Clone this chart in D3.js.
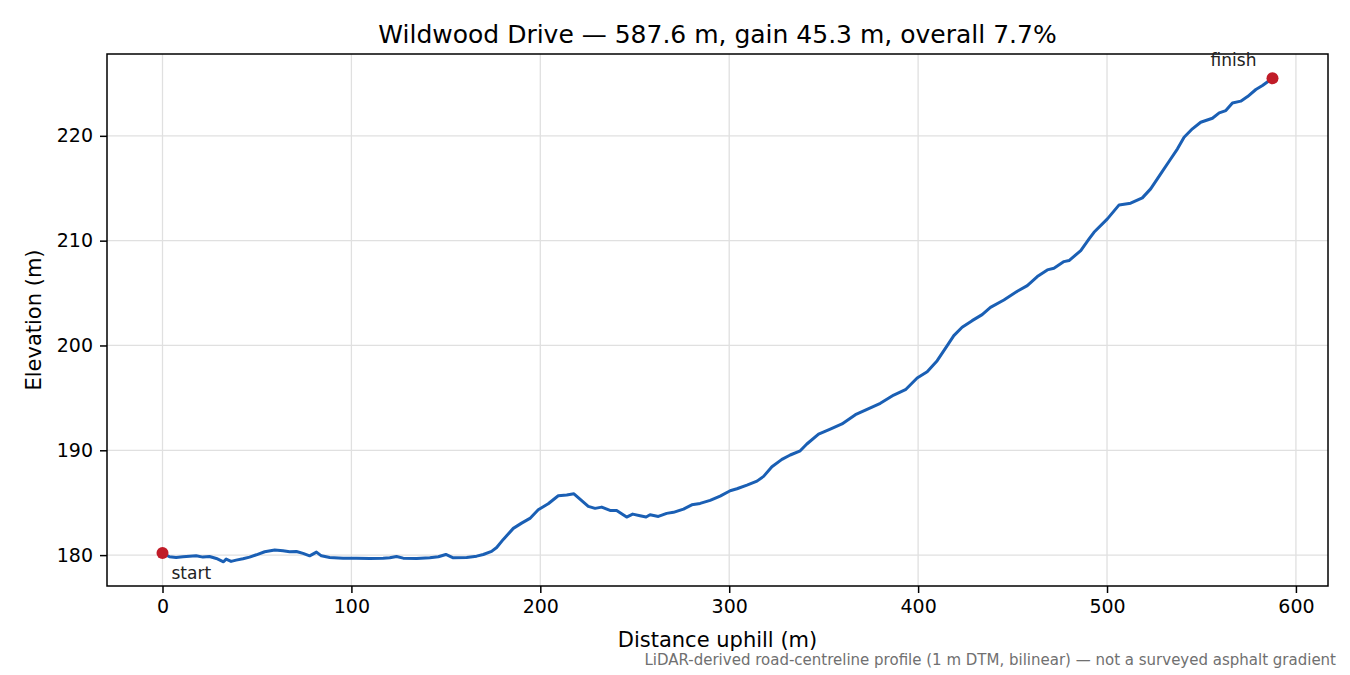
<!DOCTYPE html>
<html>
<head>
<meta charset="utf-8">
<script src="https://cdn.jsdelivr.net/npm/d3@7"></script>
<style>
    body { margin: 0; background: #fff; }
    text { font-family: "DejaVu Sans", sans-serif; }
</style>
</head>
<body>
<svg id="Profile"></svg>
<script>
'use strict';

// distance along the road (m) and LiDAR elevation (m)
const distances = [0, 3.7, 7.2, 10.8, 14.3, 17.8, 21.4, 24.9, 28.5, 32.3, 33.7, 36.3, 39, 42.6, 46.1, 49.7,
    54.1, 59.4, 63.8, 67.3, 70.9, 74.4, 77.9, 81.5, 84.1, 88.5, 95.6, 102.7, 109.7, 116.8, 120.3, 123.9,
    127.4, 134.5, 141.5, 146, 150, 153.9, 161, 166.3, 169.8, 174.2, 176.9, 180.4, 185.7, 190.1, 194.5,
    198.9, 204.2, 209.5, 214, 217.8, 221, 225.4, 229, 232.5, 236.9, 240.4, 245.7, 248.9, 252.8, 256,
    258.1, 262.5, 266.9, 270.5, 275.8, 280.2, 284.6, 289.9, 295.2, 300.5, 304.1, 309.4, 314.7, 318.2,
    322.6, 327.9, 332.3, 337.6, 341.1, 347.3, 353.5, 359.7, 366.8, 372.1, 380, 387.1, 393.3, 399.5,
    404.8, 410.1, 415.4, 418.9, 423.3, 428.6, 433.9, 438.3, 445.4, 452.5, 457.8, 463.1, 468.4, 471.9,
    477.2, 479.9, 486.1, 490.5, 493.1, 500.2, 506.4, 512.5, 518.7, 523.1, 528.4, 532.8, 537.3, 540.8,
    545.2, 549.6, 555.8, 559.4, 562.9, 566.4, 570.8, 574.4, 578.8, 582.3, 587.6];

const elevations = [180.2, 179.84, 179.78, 179.84, 179.9, 179.93, 179.81, 179.87, 179.68, 179.36, 179.62,
    179.4, 179.52, 179.65, 179.81, 180.03, 180.32, 180.48, 180.41, 180.32, 180.35, 180.16, 179.93, 180.29,
    179.93, 179.78, 179.71, 179.71, 179.68, 179.71, 179.74, 179.87, 179.71, 179.68, 179.74, 179.84, 180.06,
    179.74, 179.78, 179.9, 180.06, 180.35, 180.73, 181.5, 182.55, 183.05, 183.5, 184.33, 184.9, 185.66,
    185.73, 185.85, 185.35, 184.65, 184.46, 184.58, 184.26, 184.26, 183.63, 183.91, 183.75, 183.63, 183.85,
    183.69, 183.98, 184.08, 184.39, 184.8, 184.93, 185.22, 185.63, 186.14, 186.33, 186.68, 187.06, 187.51,
    188.43, 189.13, 189.55, 189.95, 190.6, 191.55, 192.03, 192.51, 193.4, 193.84, 194.48, 195.27, 195.78,
    196.9, 197.5, 198.55, 199.98, 200.94, 201.74, 202.37, 202.94, 203.64, 204.34, 205.17, 205.71, 206.57,
    207.21, 207.37, 208, 208.1, 209.05, 210.16, 210.8, 212.08, 213.41, 213.57, 214.08, 214.94, 216.37,
    217.55, 218.76, 219.87, 220.67, 221.3, 221.68, 222.19, 222.41, 223.14, 223.31, 223.75, 224.42, 224.8,
    225.5];

const xTicks = [0, 100, 200, 300, 400, 500, 600];
const yTicks = [180, 190, 200, 210, 220];

const titleText = "Wildwood Drive \u2014 587.6 m, gain 45.3 m, overall 7.7%";
const noteText = "LiDAR-derived road-centreline profile (1 m DTM, bilinear) \u2014 not a surveyed asphalt gradient";

let store = {};

function loadData() {
    store.profile = distances.map((d, i) => ({ dist: d, elev: elevations[i] }));
    return Promise.resolve(store);
}

function getChartConfig() {
    let margin = { top: 54, right: 22, bottom: 89, left: 107 },
        width = 1350 - margin.left - margin.right,
        height = 675 - margin.top - margin.bottom;

    let svg = d3.select("#Profile")
        .attr("width", width + margin.left + margin.right)
        .attr("height", height + margin.top + margin.bottom);

    let container = svg.append("g")
        .attr("transform", "translate(" + margin.left + "," + margin.top + ")");

    return { width, height, container, margin, svg }
}

function getScales(config) {
    let { width, height } = config;
    let { profile } = store;

    // matplotlib style 5% padding round the data
    let [x0, x1] = d3.extent(profile, d => d.dist);
    let [y0, y1] = d3.extent(profile, d => d.elev);
    let xPad = (x1 - x0) * 0.05, yPad = (y1 - y0) * 0.05;

    let xScale = d3.scaleLinear()
        .domain([x0 - xPad, x1 + xPad])
        .range([0, width]);

    let yScale = d3.scaleLinear()
        .domain([y0 - yPad, y1 + yPad])
        .range([height, 0]);

    return { xScale, yScale }
}

function drawGrid(config, scales) {
    let { container, width, height } = config;
    let { xScale, yScale } = scales;

    xTicks.forEach(t => {
        container.append("line")
            .style("stroke", "#e0e0e0")
            .style("stroke-width", 1.3)
            .attr("x1", xScale(t)).attr("x2", xScale(t))
            .attr("y1", 0).attr("y2", height);
    });

    yTicks.forEach(t => {
        container.append("line")
            .style("stroke", "#e0e0e0")
            .style("stroke-width", 1.3)
            .attr("x1", 0).attr("x2", width)
            .attr("y1", yScale(t)).attr("y2", yScale(t));
    });
}

function drawAxis(config, scales) {
    let { container, width, height, margin, svg } = config;
    let { xScale, yScale } = scales;

    let xAxis = d3.axisBottom(xScale).tickValues(xTicks).tickSize(7).tickPadding(7);
    container.append("g")
        .attr("class", "x axis")
        .attr("transform", "translate(0," + height + ")")
        .call(xAxis);

    let yAxis = d3.axisLeft(yScale).tickValues(yTicks).tickSize(7).tickPadding(7);
    container.append("g")
        .attr("class", "y axis")
        .call(yAxis);

    container.selectAll(".axis .domain").remove();
    container.selectAll(".axis line").style("stroke", "#000").style("stroke-width", 1.5);
    container.selectAll(".axis text")
        .style("font-size", "19px")
        .style("font-family", "DejaVu Sans")
        .style("fill", "#000");

    // frame on all four sides
    container.append("rect")
        .attr("width", width)
        .attr("height", height)
        .style("fill", "none")
        .style("stroke", "#000")
        .style("stroke-width", 1.5);

    container.append("text")
        .attr("x", width / 2)
        .attr("y", height + 61)
        .style("text-anchor", "middle")
        .style("font-size", "21px")
        .text("Distance uphill (m)");

    container.append("text")
        .attr("transform", "rotate(-90)")
        .attr("x", -height / 2)
        .attr("y", -66)
        .style("text-anchor", "middle")
        .style("font-size", "21px")
        .text("Elevation (m)");

    container.append("text")
        .attr("x", width / 2)
        .attr("y", -11)
        .style("text-anchor", "middle")
        .style("font-size", "25px")
        .text(titleText);

    svg.append("text")
        .attr("x", 1336)
        .attr("y", 665)
        .style("text-anchor", "end")
        .style("font-size", "15px")
        .style("fill", "#707070")
        .text(noteText);
}

function drawProfile(config, scales) {
    let { container } = config;
    let { xScale, yScale } = scales;
    let { profile } = store;

    let line = d3.line()
        .x(d => xScale(d.dist))
        .y(d => yScale(d.elev));

    container.append("path")
        .datum(profile)
        .attr("d", line)
        .style("fill", "none")
        .style("stroke", "#1a5fb4")
        .style("stroke-width", 3)
        .style("stroke-linejoin", "round");

    let ends = [profile[0], profile[profile.length - 1]];

    container.selectAll(".endpoint")
        .data(ends)
        .enter()
        .append("circle")
        .attr("class", "endpoint")
        .attr("cx", d => xScale(d.dist))
        .attr("cy", d => yScale(d.elev))
        .attr("r", 6)
        .attr("fill", "#c01c28");

    container.append("text")
        .attr("x", xScale(ends[0].dist) + 9)
        .attr("y", yScale(ends[0].elev) + 26)
        .style("font-size", "17px")
        .style("fill", "#222")
        .text("start");

    container.append("text")
        .attr("x", xScale(ends[1].dist) - 39)
        .attr("y", yScale(ends[1].elev) - 12)
        .style("text-anchor", "middle")
        .style("font-size", "17px")
        .style("fill", "#222")
        .text("finish");
}

function drawChart() {
    let config = getChartConfig();
    let scales = getScales(config);
    drawGrid(config, scales);
    drawAxis(config, scales);
    drawProfile(config, scales);
}

loadData().then(drawChart);
</script>
</body>
</html>
